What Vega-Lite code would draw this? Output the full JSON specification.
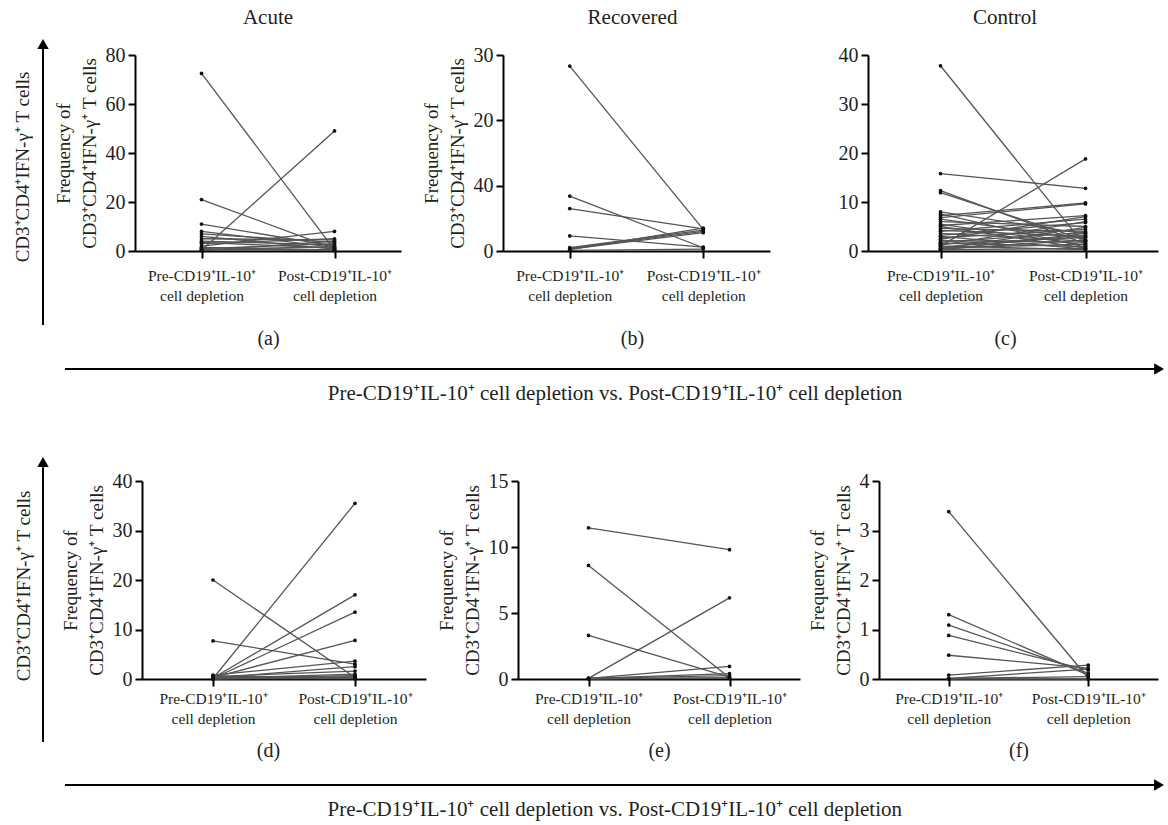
{
  "$schema": "https://vega.github.io/schema/vega-lite/v6.json",
  "background": "white",
  "padding": {"left": 0, "top": 7, "right": 0, "bottom": 0},
  "config": {
    "font": "Liberation Serif",
    "view": {"stroke": null},
    "title": {"font": "Liberation Serif", "fontSize": 21, "fontWeight": "normal", "color": "#231f20", "frame": "group", "anchor": "middle", "offset": 17},
    "axis": {"grid": false, "domainColor": "#000", "domainWidth": 2, "tickColor": "#000", "tickWidth": 2, "tickSize": 7, "labelColor": "#231f20", "titleColor": "#231f20", "titleFontWeight": "normal", "labelFont": "Liberation Serif", "titleFont": "Liberation Serif"},
    "axisX": {"labelFontSize": 15.5, "labelLineHeight": 20, "labelPadding": 10, "titleFontSize": 20, "titlePadding": 25, "labelAngle": 0},
    "axisY": {"labelFontSize": 20, "labelPadding": 3, "titleFontSize": 19, "titlePadding": 6, "titleLineHeight": 26}
  },
  "datasets": {
    "obs": [
      {"p":"a","id":1,"c":"Pre","v":72.5},{"p":"a","id":1,"c":"Post","v":0.5},
      {"p":"a","id":2,"c":"Pre","v":0.3},{"p":"a","id":2,"c":"Post","v":49},
      {"p":"a","id":3,"c":"Pre","v":21},{"p":"a","id":3,"c":"Post","v":1.0},
      {"p":"a","id":4,"c":"Pre","v":11},{"p":"a","id":4,"c":"Post","v":2.0},
      {"p":"a","id":5,"c":"Pre","v":8},{"p":"a","id":5,"c":"Post","v":1.5},
      {"p":"a","id":6,"c":"Pre","v":7},{"p":"a","id":6,"c":"Post","v":3.5},
      {"p":"a","id":7,"c":"Pre","v":6},{"p":"a","id":7,"c":"Post","v":0.8},
      {"p":"a","id":8,"c":"Pre","v":5},{"p":"a","id":8,"c":"Post","v":4.5},
      {"p":"a","id":9,"c":"Pre","v":4},{"p":"a","id":9,"c":"Post","v":2.5},
      {"p":"a","id":10,"c":"Pre","v":3.5},{"p":"a","id":10,"c":"Post","v":1.2},
      {"p":"a","id":11,"c":"Pre","v":3},{"p":"a","id":11,"c":"Post","v":5},
      {"p":"a","id":12,"c":"Pre","v":2},{"p":"a","id":12,"c":"Post","v":8},
      {"p":"a","id":13,"c":"Pre","v":1.5},{"p":"a","id":13,"c":"Post","v":0.4},
      {"p":"a","id":14,"c":"Pre","v":1},{"p":"a","id":14,"c":"Post","v":3},
      {"p":"a","id":15,"c":"Pre","v":0.8},{"p":"a","id":15,"c":"Post","v":0.2},
      {"p":"a","id":16,"c":"Pre","v":0.5},{"p":"a","id":16,"c":"Post","v":1.8},
      {"p":"a","id":17,"c":"Pre","v":0.3},{"p":"a","id":17,"c":"Post","v":0.6},
      {"p":"a","id":18,"c":"Pre","v":0.2},{"p":"a","id":18,"c":"Post","v":4},

      {"p":"b","id":1,"c":"Pre","v":28.3},{"p":"b","id":1,"c":"Post","v":3.3},
      {"p":"b","id":2,"c":"Pre","v":8.4},{"p":"b","id":2,"c":"Post","v":0.5},
      {"p":"b","id":3,"c":"Pre","v":6.5},{"p":"b","id":3,"c":"Post","v":3.4},
      {"p":"b","id":4,"c":"Pre","v":2.3},{"p":"b","id":4,"c":"Post","v":0.6},
      {"p":"b","id":5,"c":"Pre","v":0.4},{"p":"b","id":5,"c":"Post","v":3.0},
      {"p":"b","id":6,"c":"Pre","v":0.2},{"p":"b","id":6,"c":"Post","v":3.5},
      {"p":"b","id":7,"c":"Pre","v":0.3},{"p":"b","id":7,"c":"Post","v":2.8},
      {"p":"b","id":8,"c":"Pre","v":0.1},{"p":"b","id":8,"c":"Post","v":0.3},
      {"p":"b","id":9,"c":"Pre","v":0.5},{"p":"b","id":9,"c":"Post","v":3.2},

      {"p":"c","id":1,"c":"Pre","v":37.8},{"p":"c","id":1,"c":"Post","v":1.0},
      {"p":"c","id":2,"c":"Pre","v":15.8},{"p":"c","id":2,"c":"Post","v":12.8},
      {"p":"c","id":3,"c":"Pre","v":12.3},{"p":"c","id":3,"c":"Post","v":1.5},
      {"p":"c","id":4,"c":"Pre","v":11.9},{"p":"c","id":4,"c":"Post","v":2.2},
      {"p":"c","id":5,"c":"Pre","v":8},{"p":"c","id":5,"c":"Post","v":3.5},
      {"p":"c","id":6,"c":"Pre","v":7.6},{"p":"c","id":6,"c":"Post","v":0.8},
      {"p":"c","id":7,"c":"Pre","v":7.2},{"p":"c","id":7,"c":"Post","v":9.8},
      {"p":"c","id":8,"c":"Pre","v":6.8},{"p":"c","id":8,"c":"Post","v":9.6},
      {"p":"c","id":9,"c":"Pre","v":6.5},{"p":"c","id":9,"c":"Post","v":2.5},
      {"p":"c","id":10,"c":"Pre","v":6},{"p":"c","id":10,"c":"Post","v":5.0},
      {"p":"c","id":11,"c":"Pre","v":5.5},{"p":"c","id":11,"c":"Post","v":1.2},
      {"p":"c","id":12,"c":"Pre","v":5.2},{"p":"c","id":12,"c":"Post","v":7.2},
      {"p":"c","id":13,"c":"Pre","v":5},{"p":"c","id":13,"c":"Post","v":0.6},
      {"p":"c","id":14,"c":"Pre","v":4.6},{"p":"c","id":14,"c":"Post","v":4.0},
      {"p":"c","id":15,"c":"Pre","v":4.2},{"p":"c","id":15,"c":"Post","v":3.0},
      {"p":"c","id":16,"c":"Pre","v":4},{"p":"c","id":16,"c":"Post","v":6.5},
      {"p":"c","id":17,"c":"Pre","v":3.6},{"p":"c","id":17,"c":"Post","v":2.0},
      {"p":"c","id":18,"c":"Pre","v":3.2},{"p":"c","id":18,"c":"Post","v":5.8},
      {"p":"c","id":19,"c":"Pre","v":3},{"p":"c","id":19,"c":"Post","v":0.4},
      {"p":"c","id":20,"c":"Pre","v":2.7},{"p":"c","id":20,"c":"Post","v":4.4},
      {"p":"c","id":21,"c":"Pre","v":2.4},{"p":"c","id":21,"c":"Post","v":7.0},
      {"p":"c","id":22,"c":"Pre","v":2.1},{"p":"c","id":22,"c":"Post","v":1.8},
      {"p":"c","id":23,"c":"Pre","v":1.8},{"p":"c","id":23,"c":"Post","v":3.8},
      {"p":"c","id":24,"c":"Pre","v":1.6},{"p":"c","id":24,"c":"Post","v":0.9},
      {"p":"c","id":25,"c":"Pre","v":1.4},{"p":"c","id":25,"c":"Post","v":2.8},
      {"p":"c","id":26,"c":"Pre","v":1.2},{"p":"c","id":26,"c":"Post","v":6.0},
      {"p":"c","id":27,"c":"Pre","v":1.0},{"p":"c","id":27,"c":"Post","v":18.8},
      {"p":"c","id":28,"c":"Pre","v":0.8},{"p":"c","id":28,"c":"Post","v":3.2},
      {"p":"c","id":29,"c":"Pre","v":0.6},{"p":"c","id":29,"c":"Post","v":1.4},
      {"p":"c","id":30,"c":"Pre","v":0.5},{"p":"c","id":30,"c":"Post","v":4.8},
      {"p":"c","id":31,"c":"Pre","v":0.4},{"p":"c","id":31,"c":"Post","v":2.2},
      {"p":"c","id":32,"c":"Pre","v":0.3},{"p":"c","id":32,"c":"Post","v":0.5},
      {"p":"c","id":33,"c":"Pre","v":0.2},{"p":"c","id":33,"c":"Post","v":3.6},
      {"p":"c","id":34,"c":"Pre","v":1.0},{"p":"c","id":34,"c":"Post","v":0.3},

      {"p":"d","id":1,"c":"Pre","v":20},{"p":"d","id":1,"c":"Post","v":0.3},
      {"p":"d","id":2,"c":"Pre","v":7.7},{"p":"d","id":2,"c":"Post","v":3.0},
      {"p":"d","id":3,"c":"Pre","v":0.1},{"p":"d","id":3,"c":"Post","v":35.5},
      {"p":"d","id":4,"c":"Pre","v":0.2},{"p":"d","id":4,"c":"Post","v":17},
      {"p":"d","id":5,"c":"Pre","v":0.1},{"p":"d","id":5,"c":"Post","v":13.5},
      {"p":"d","id":6,"c":"Pre","v":0.3},{"p":"d","id":6,"c":"Post","v":7.8},
      {"p":"d","id":7,"c":"Pre","v":0.8},{"p":"d","id":7,"c":"Post","v":3.6},
      {"p":"d","id":8,"c":"Pre","v":0.2},{"p":"d","id":8,"c":"Post","v":2.5},
      {"p":"d","id":9,"c":"Pre","v":0.5},{"p":"d","id":9,"c":"Post","v":1.6},
      {"p":"d","id":10,"c":"Pre","v":0.1},{"p":"d","id":10,"c":"Post","v":1.0},
      {"p":"d","id":11,"c":"Pre","v":0.0},{"p":"d","id":11,"c":"Post","v":0.5},
      {"p":"d","id":12,"c":"Pre","v":0.3},{"p":"d","id":12,"c":"Post","v":0.2},
      {"p":"d","id":13,"c":"Pre","v":0.1},{"p":"d","id":13,"c":"Post","v":0.1},
      {"p":"d","id":14,"c":"Pre","v":0.6},{"p":"d","id":14,"c":"Post","v":0.3},
      {"p":"d","id":15,"c":"Pre","v":0.2},{"p":"d","id":15,"c":"Post","v":0.7},

      {"p":"e","id":1,"c":"Pre","v":11.45},{"p":"e","id":1,"c":"Post","v":9.8},
      {"p":"e","id":2,"c":"Pre","v":8.6},{"p":"e","id":2,"c":"Post","v":0.1},
      {"p":"e","id":3,"c":"Pre","v":3.3},{"p":"e","id":3,"c":"Post","v":0.15},
      {"p":"e","id":4,"c":"Pre","v":0.05},{"p":"e","id":4,"c":"Post","v":6.15},
      {"p":"e","id":5,"c":"Pre","v":0.05},{"p":"e","id":5,"c":"Post","v":0.95},
      {"p":"e","id":6,"c":"Pre","v":0.05},{"p":"e","id":6,"c":"Post","v":0.4},
      {"p":"e","id":7,"c":"Pre","v":0.05},{"p":"e","id":7,"c":"Post","v":0.25},
      {"p":"e","id":8,"c":"Pre","v":0.02},{"p":"e","id":8,"c":"Post","v":0.1},
      {"p":"e","id":9,"c":"Pre","v":0.02},{"p":"e","id":9,"c":"Post","v":0.05},

      {"p":"f","id":1,"c":"Pre","v":3.38},{"p":"f","id":1,"c":"Post","v":0.02},
      {"p":"f","id":2,"c":"Pre","v":1.3},{"p":"f","id":2,"c":"Post","v":0.08},
      {"p":"f","id":3,"c":"Pre","v":1.09},{"p":"f","id":3,"c":"Post","v":0.12},
      {"p":"f","id":4,"c":"Pre","v":0.88},{"p":"f","id":4,"c":"Post","v":0.18},
      {"p":"f","id":5,"c":"Pre","v":0.48},{"p":"f","id":5,"c":"Post","v":0.22},
      {"p":"f","id":6,"c":"Pre","v":0.08},{"p":"f","id":6,"c":"Post","v":0.28},
      {"p":"f","id":7,"c":"Pre","v":0.01},{"p":"f","id":7,"c":"Post","v":0.2},
      {"p":"f","id":8,"c":"Pre","v":0.01},{"p":"f","id":8,"c":"Post","v":0.05},
      {"p":"f","id":9,"c":"Pre","v":0.0},{"p":"f","id":9,"c":"Post","v":0.0}
    ]
  },
  "spacing": 52,
  "vconcat": [
    {
      "spacing": 1,
      "bounds": "flush",
      "hconcat": [
        {
          "width": 134, "height": 196,
          "data": {"values": [{}]},
          "layer": [
            {"mark": {"type": "rule", "color": "#000", "strokeWidth": 2},
             "encoding": {"x": {"datum": 0.3209, "type": "quantitative", "scale": {"domain": [0, 1]}, "axis": null},
                          "y": {"datum": -0.3776, "type": "quantitative", "scale": {"domain": [0, 1]}, "axis": null},
                          "y2": {"datum": 1.03}}},
            {"mark": {"type": "point", "shape": "triangle-up", "filled": true, "color": "#000", "size": 130, "opacity": 1},
             "encoding": {"x": {"datum": 0.3209, "type": "quantitative", "axis": null}, "y": {"datum": 1.056, "type": "quantitative", "axis": null}}},
            {"mark": {"type": "text", "angle": 270, "fontSize": 19, "align": "center", "baseline": "middle", "color": "#231f20", "text": "CD3⁺CD4⁺IFN-γ⁺ T cells"},
             "encoding": {"x": {"datum": 0.175, "type": "quantitative", "axis": null}, "y": {"datum": 0.4286, "type": "quantitative", "axis": null}}},
            {"mark": {"type": "rule", "color": "#000", "strokeWidth": 2},
             "encoding": {"x": {"datum": 0.485, "type": "quantitative", "axis": null}, "x2": {"datum": 8.62},
                          "y": {"datum": -0.602, "type": "quantitative", "axis": null}}},
            {"mark": {"type": "point", "shape": "triangle-right", "filled": true, "color": "#000", "size": 130, "opacity": 1},
             "encoding": {"x": {"datum": 8.65, "type": "quantitative", "axis": null}, "y": {"datum": -0.602, "type": "quantitative", "axis": null}}},
            {"mark": {"type": "text", "fontSize": 21, "align": "center", "baseline": "middle", "color": "#231f20", "text": "Pre-CD19⁺IL-10⁺ cell depletion vs. Post-CD19⁺IL-10⁺ cell depletion"},
             "encoding": {"x": {"datum": 4.59, "type": "quantitative", "axis": null}, "y": {"datum": -0.7296, "type": "quantitative", "axis": null}}}
          ]
        },
        {
          "width": 266, "height": 196,
          "title": {"text": "Acute"},
          "encoding": {
            "x": {"field": "c", "type": "nominal", "scale": {"type": "point", "domain": ["Pre", "Post"], "padding": 0.5},
                  "axis": {"title": "(a)", "labelExpr": "datum.value == 'Pre' ? ['Pre-CD19⁺IL-10⁺', 'cell depletion'] : ['Post-CD19⁺IL-10⁺', 'cell depletion']"}},
            "y": {"field": "v", "type": "quantitative", "scale": {"domain": [0, 80], "nice": false},
                  "axis": {"values": [0, 20, 40, 60, 80], "title": ["Frequency of", "CD3⁺CD4⁺IFN-γ⁺ T cells"]}}
          },
          "layer": [
            {"data": {"name": "obs"}, "transform": [{"filter": "datum.p === 'a'"}],
             "mark": {"type": "line", "stroke": "#555", "strokeWidth": 1.3}, "encoding": {"detail": {"field": "id"}}},
            {"data": {"name": "obs"}, "transform": [{"filter": "datum.p === 'a'"}],
             "mark": {"type": "point", "filled": true, "color": "#111", "size": 14, "opacity": 1}}
          ]
        },
        {"width": 100, "height": 196, "data": {"values": [{}]}, "mark": {"type": "point", "opacity": 0}},
        {
          "width": 267, "height": 196,
          "title": {"text": "Recovered", "dx": -4},
          "encoding": {
            "x": {"field": "c", "type": "nominal", "scale": {"type": "point", "domain": ["Pre", "Post"], "padding": 0.5},
                  "axis": {"title": "(b)", "titleX": 129, "labelExpr": "datum.value == 'Pre' ? ['Pre-CD19⁺IL-10⁺', 'cell depletion'] : ['Post-CD19⁺IL-10⁺', 'cell depletion']"}},
            "y": {"field": "v", "type": "quantitative", "scale": {"domain": [0, 30], "nice": false},
                  "axis": {"values": [0, 10, 20, 30], "labelExpr": "datum.value === 10 ? '40' : datum.label", "title": ["Frequency of", "CD3⁺CD4⁺IFN-γ⁺ T cells"]}}
          },
          "layer": [
            {"data": {"name": "obs"}, "transform": [{"filter": "datum.p === 'b'"}],
             "mark": {"type": "line", "stroke": "#555", "strokeWidth": 1.3}, "encoding": {"detail": {"field": "id"}}},
            {"data": {"name": "obs"}, "transform": [{"filter": "datum.p === 'b'"}],
             "mark": {"type": "point", "filled": true, "color": "#111", "size": 14, "opacity": 1}}
          ]
        },
        {"width": 96, "height": 196, "data": {"values": [{}]}, "mark": {"type": "point", "opacity": 0}},
        {
          "width": 290, "height": 196,
          "title": {"text": "Control", "dx": -8},
          "encoding": {
            "x": {"field": "c", "type": "nominal", "scale": {"type": "point", "domain": ["Pre", "Post"], "padding": 0.5},
                  "axis": {"title": "(c)", "titleX": 137, "labelExpr": "datum.value == 'Pre' ? ['Pre-CD19⁺IL-10⁺', 'cell depletion'] : ['Post-CD19⁺IL-10⁺', 'cell depletion']"}},
            "y": {"field": "v", "type": "quantitative", "scale": {"domain": [0, 40], "nice": false},
                  "axis": {"values": [0, 10, 20, 30, 40], "title": null}}
          },
          "layer": [
            {"data": {"name": "obs"}, "transform": [{"filter": "datum.p === 'c'"}],
             "mark": {"type": "line", "stroke": "#555", "strokeWidth": 1.3}, "encoding": {"detail": {"field": "id"}}},
            {"data": {"name": "obs"}, "transform": [{"filter": "datum.p === 'c'"}],
             "mark": {"type": "point", "filled": true, "color": "#111", "size": 14, "opacity": 1}}
          ]
        }
      ]
    },
    {
      "spacing": 1,
      "bounds": "flush",
      "hconcat": [
        {
          "width": 141, "height": 198,
          "data": {"values": [{}]},
          "layer": [
            {"mark": {"type": "rule", "color": "#000", "strokeWidth": 2},
             "encoding": {"x": {"datum": 0.305, "type": "quantitative", "scale": {"domain": [0, 1]}, "axis": null},
                          "y": {"datum": -0.318, "type": "quantitative", "scale": {"domain": [0, 1]}, "axis": null},
                          "y2": {"datum": 1.07}}},
            {"mark": {"type": "point", "shape": "triangle-up", "filled": true, "color": "#000", "size": 130, "opacity": 1},
             "encoding": {"x": {"datum": 0.305, "type": "quantitative", "axis": null}, "y": {"datum": 1.096, "type": "quantitative", "axis": null}}},
            {"mark": {"type": "text", "angle": 270, "fontSize": 19, "align": "center", "baseline": "middle", "color": "#231f20", "text": "CD3⁺CD4⁺IFN-γ⁺ T cells"},
             "encoding": {"x": {"datum": 0.17, "type": "quantitative", "axis": null}, "y": {"datum": 0.47, "type": "quantitative", "axis": null}}},
            {"mark": {"type": "rule", "color": "#000", "strokeWidth": 2},
             "encoding": {"x": {"datum": 0.461, "type": "quantitative", "axis": null}, "x2": {"datum": 8.19},
                          "y": {"datum": -0.535, "type": "quantitative", "axis": null}}},
            {"mark": {"type": "point", "shape": "triangle-right", "filled": true, "color": "#000", "size": 130, "opacity": 1},
             "encoding": {"x": {"datum": 8.22, "type": "quantitative", "axis": null}, "y": {"datum": -0.535, "type": "quantitative", "axis": null}}},
            {"mark": {"type": "text", "fontSize": 21, "align": "center", "baseline": "middle", "color": "#231f20", "text": "Pre-CD19⁺IL-10⁺ cell depletion vs. Post-CD19⁺IL-10⁺ cell depletion"},
             "encoding": {"x": {"datum": 4.36, "type": "quantitative", "axis": null}, "y": {"datum": -0.662, "type": "quantitative", "axis": null}}}
          ]
        },
        {
          "width": 284, "height": 198,
          "encoding": {
            "x": {"field": "c", "type": "nominal", "scale": {"type": "point", "domain": ["Pre", "Post"], "padding": 0.5},
                  "axis": {"title": "(d)", "titleX": 126, "labelPadding": 5, "titlePadding": 14, "labelExpr": "datum.value == 'Pre' ? ['Pre-CD19⁺IL-10⁺', 'cell depletion'] : ['Post-CD19⁺IL-10⁺', 'cell depletion']"}},
            "y": {"field": "v", "type": "quantitative", "scale": {"domain": [0, 40], "nice": false},
                  "axis": {"values": [0, 10, 20, 30, 40], "title": ["Frequency of", "CD3⁺CD4⁺IFN-γ⁺ T cells"]}}
          },
          "layer": [
            {"data": {"name": "obs"}, "transform": [{"filter": "datum.p === 'd'"}],
             "mark": {"type": "line", "stroke": "#555", "strokeWidth": 1.3}, "encoding": {"detail": {"field": "id"}}},
            {"data": {"name": "obs"}, "transform": [{"filter": "datum.p === 'd'"}],
             "mark": {"type": "point", "filled": true, "color": "#111", "size": 14, "opacity": 1}},
            {"data": {"values": [{}]}, "mark": {"type": "rule", "color": "#333", "strokeWidth": 1.3},
             "encoding": {"x": {"datum": "Pre"}, "x2": {"datum": "Post"}, "y": {"datum": 38.3}}},
            {"data": {"values": [{}]}, "mark": {"type": "rule", "color": "#333", "strokeWidth": 1.3},
             "encoding": {"x": {"datum": "Pre"}, "y": {"datum": 36.6}, "y2": {"datum": 38.3}}},
            {"data": {"values": [{}]}, "mark": {"type": "rule", "color": "#333", "strokeWidth": 1.3},
             "encoding": {"x": {"datum": "Post"}, "y": {"datum": 36.6}, "y2": {"datum": 38.3}}},
            {"data": {"values": [{}]}, "mark": {"type": "text", "fontSize": 18, "dx": 71, "align": "center", "baseline": "middle", "color": "#231f20", "text": "p=0.021"},
             "encoding": {"x": {"datum": "Pre"}, "y": {"datum": 40.7}}}
          ]
        },
        {"width": 90, "height": 198, "data": {"values": [{}]}, "mark": {"type": "point", "opacity": 0}},
        {
          "width": 282, "height": 198,
          "encoding": {
            "x": {"field": "c", "type": "nominal", "scale": {"type": "point", "domain": ["Pre", "Post"], "padding": 0.5},
                  "axis": {"title": "(e)", "labelPadding": 5, "titlePadding": 14, "labelExpr": "datum.value == 'Pre' ? ['Pre-CD19⁺IL-10⁺', 'cell depletion'] : ['Post-CD19⁺IL-10⁺', 'cell depletion']"}},
            "y": {"field": "v", "type": "quantitative", "scale": {"domain": [0, 15], "nice": false},
                  "axis": {"values": [0, 5, 10, 15], "title": ["Frequency of", "CD3⁺CD4⁺IFN-γ⁺ T cells"]}}
          },
          "layer": [
            {"data": {"name": "obs"}, "transform": [{"filter": "datum.p === 'e'"}],
             "mark": {"type": "line", "stroke": "#555", "strokeWidth": 1.3}, "encoding": {"detail": {"field": "id"}}},
            {"data": {"name": "obs"}, "transform": [{"filter": "datum.p === 'e'"}],
             "mark": {"type": "point", "filled": true, "color": "#111", "size": 14, "opacity": 1}}
          ]
        },
        {"width": 77, "height": 198, "data": {"values": [{}]}, "mark": {"type": "point", "opacity": 0}},
        {
          "width": 279, "height": 198,
          "encoding": {
            "x": {"field": "c", "type": "nominal", "scale": {"type": "point", "domain": ["Pre", "Post"], "padding": 0.5},
                  "axis": {"title": "(f)", "labelPadding": 5, "titlePadding": 14, "labelExpr": "datum.value == 'Pre' ? ['Pre-CD19⁺IL-10⁺', 'cell depletion'] : ['Post-CD19⁺IL-10⁺', 'cell depletion']"}},
            "y": {"field": "v", "type": "quantitative", "scale": {"domain": [0, 4], "nice": false},
                  "axis": {"values": [0, 1, 2, 3, 4], "title": ["Frequency of", "CD3⁺CD4⁺IFN-γ⁺ T cells"]}}
          },
          "layer": [
            {"data": {"name": "obs"}, "transform": [{"filter": "datum.p === 'f'"}],
             "mark": {"type": "line", "stroke": "#555", "strokeWidth": 1.3}, "encoding": {"detail": {"field": "id"}}},
            {"data": {"name": "obs"}, "transform": [{"filter": "datum.p === 'f'"}],
             "mark": {"type": "point", "filled": true, "color": "#111", "size": 14, "opacity": 1}}
          ]
        }
      ]
    }
  ]
}
